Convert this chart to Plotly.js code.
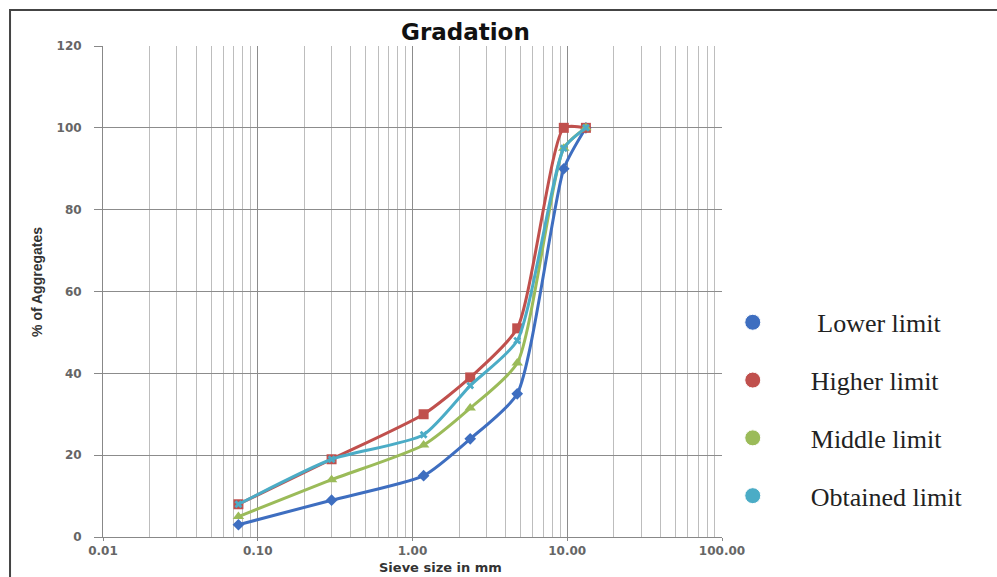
<!DOCTYPE html>
<html><head><meta charset="utf-8">
<script src="https://cdn.plot.ly/plotly-3.0.1.min.js"></script>
<style>html,body{margin:0;padding:0;background:#fff;}#chart{width:997px;height:577px;}</style>
</head><body><div id="chart"></div>
<script>
const sieveSizes = [0.075, 0.3, 1.18, 2.36, 4.75, 9.5, 13.2];
const lowerLimit = [3, 9, 15, 24, 35, 90, 100];
const higherLimit = [8, 19, 30, 39, 51, 100, 100];
const middleLimit = [5, 14, 22.5, 31.5, 42.5, 95, 100];
const obtainedLimit = [8, 19, 25, 37, 48, 95, 100];
const seriesNames = ["Lower limit", "Higher limit", "Middle limit", "Obtained limit"];
const xTickVals = [0.01, 0.1, 1, 10, 100];
const xTickText = ["0.01", "0.10", "1.00", "10.00", "100.00"];
const yTickVals = [0, 20, 40, 60, 80, 100, 120];

const colors = ["#3E6EC0", "#C0504D", "#9BBB59", "#4BACC6"];
const symbols = ["diamond", "square", "triangle-up", "x"];
const sizes = [9, 10, 10, 7];
const seriesData = [lowerLimit, higherLimit, middleLimit, obtainedLimit];

const traces = [];
seriesData.forEach((ys, i) => {
  traces.push({
    x: sieveSizes, y: ys, type: "scatter", mode: "lines+markers",
    line: {color: colors[i], width: 3, shape: "spline", smoothing: 0.6},
    marker: {color: colors[i], symbol: symbols[i], size: sizes[i]},
    showlegend: false, hoverinfo: "x+y", name: seriesNames[i]
  });
});
seriesData.forEach((ys, i) => {
  traces.push({
    x: [null], y: [null], type: "scatter", mode: "markers",
    marker: {color: colors[i], symbol: "circle", size: 16, line: {color: "#ffffff", width: 1}},
    name: (i === 0 ? "\u00a0" : "") + seriesNames[i], legendgroup: "g" + i, showlegend: true
  });
});

const tickFont = {family: "DejaVu Sans, sans-serif", size: 12, color: "#666", weight: "bold"};

const layout = {
  width: 997, height: 577,
  margin: {l: 103, r: 275, t: 46, b: 40},
  paper_bgcolor: "#ffffff", plot_bgcolor: "#ffffff",
  showlegend: true,
  legend: {
    x: 0.956, y: 0.485, xanchor: "left", yanchor: "top",
    bgcolor: "rgba(0,0,0,0)",
    font: {family: "Liberation Serif, Times New Roman, serif", size: 26, color: "#222"},
    traceorder: "grouped", tracegroupgap: 21, itemwidth: 106
  },
  xaxis: {
    type: "log", range: [-2, 2],
    tickvals: xTickVals, ticktext: xTickText,
    showgrid: true, gridcolor: "#8c8c8c", gridwidth: 1,
    minor: {showgrid: true, gridcolor: "#bdbdbd", gridwidth: 1, dtick: "D1", ticks: ""},
    ticks: "outside", ticklen: 3, tickcolor: "#888",
    showline: true, linecolor: "#888", linewidth: 1,
    tickfont: tickFont,
    zeroline: false, fixedrange: true
  },
  yaxis: {
    range: [0, 120], tickvals: yTickVals,
    showgrid: true, gridcolor: "#8c8c8c", gridwidth: 1,
    ticks: "outside", ticklen: 8, tickcolor: "#888",
    showline: true, linecolor: "#888", linewidth: 1,
    tickfont: tickFont, ticklabelstandoff: 10,
    zeroline: false, fixedrange: true
  },
  annotations: [
    {text: "<b>Gradation</b>", xref: "paper", yref: "paper", x: 0.585, y: 1.0285,
     xanchor: "center", yanchor: "middle", showarrow: false,
     font: {family: "DejaVu Sans, sans-serif", size: 23, color: "#111"}},
    {text: "<b>Sieve size in mm</b>", xref: "paper", yref: "paper", x: 0.546, y: -0.0631,
     xanchor: "center", yanchor: "middle", showarrow: false, borderpad: 0,
     font: {family: "DejaVu Sans, sans-serif", size: 13, color: "#333"}},
    {text: "% of Aggregates", xref: "paper", yref: "paper", x: -0.107, y: 0.519,
     xanchor: "center", yanchor: "middle", showarrow: false, textangle: -90,
     font: {family: "Liberation Sans Narrow, Arial Narrow, sans-serif", size: 14, color: "#333", weight: "bold"}}
  ],
  shapes: [
    {type: "rect", xref: "paper", yref: "paper",
     x0: -0.1502, x1: 1.46, y0: -0.12, y1: 1.0733,
     line: {color: "#444", width: 2}, fillcolor: "rgba(0,0,0,0)", layer: "above"}
  ]
};

Plotly.newPlot("chart", traces, layout, {displayModeBar: false, staticPlot: true});
</script></body></html>
